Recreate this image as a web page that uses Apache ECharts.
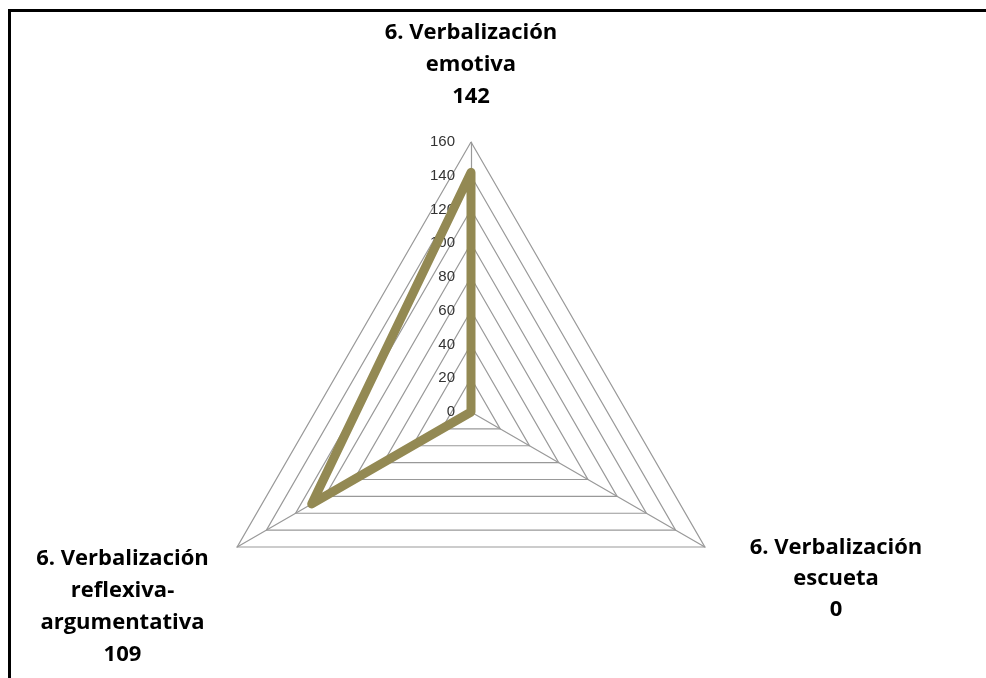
<!DOCTYPE html>
<html>
<head>
  <meta charset="utf-8">
  <title>Verbalización</title>
  <script src="https://cdn.jsdelivr.net/npm/echarts@6/dist/echarts.min.js"></script>
  <style type="text/css">
    html, body {
      margin: 0;
      padding: 0;
      background: #fff;
    }

    /* marco del gráfico */
    .frame {
      position: absolute;
      left: 8px;
      top: 9px;
      width: 986px;
      height: 678px;
      border-top: 3px solid #000;
      border-left: 3px solid #000;
    }

    #chart {
      position: absolute;
      left: 0;
      top: 0;
      width: 986px;
      height: 678px;
    }
  </style>
</head>
<body>
<div class="frame"></div>
<div id="chart"></div>
<script>
  // datos (orden en que echarts los dibuja: arriba, abajo-izq, abajo-der)
  var categories = ['6. Verbalización\nemotiva', '6. Verbalización\nreflexiva-\nargumentativa', '6. Verbalización\nescueta'];
  var values = [142, 109, 0];
  var axisMax = 160;
  var axisStep = 20;

  var chart = echarts.init(document.getElementById('chart'));

  // nombre + valor, cada línea centrada en una caja fija
  function nameFormatter(name) {
    var idx = categories.indexOf(name);
    var lines = name.split('\n');
    lines.push(String(values[idx]));
    return lines.map(function (l) {
      return '{n|' + l + '}';
    }).join('\n');
  }

  // ajuste de cada nombre
  var nameGaps = [29, 17, 36];
  var namePads = [[0, 0, 0, 0], [102, 0, 0, 0], [28, 0, 0, 0]];
  var lineHeights = [32, 32, 31];

  var indicators = categories.map(function (c, i) {
    var ind = {
      name: c,
      max: axisMax,
      min: 0,
      nameGap: nameGaps[i],
      nameTextStyle: {
        padding: namePads[i],
        rich: {n: {lineHeight: lineHeights[i]}}
      }
    };
    if (i === 0) {
      ind.axisLabel = {show: true};
    }
    return ind;
  });

  var option = {
    animation: false,
    radar: {
      center: [471, 412],
      radius: 270,
      startAngle: 90,
      shape: 'polygon',
      splitNumber: axisMax / axisStep,
      indicator: indicators,
      axisName: {
        formatter: nameFormatter,
        rich: {
          n: {
            width: 200,
            align: 'center',
            fontFamily: '"Open Sans", sans-serif',
            fontWeight: 'bold',
            fontSize: 22,
            lineHeight: 32,
            color: '#000'
          }
        }
      },
      axisLine: {
        show: true,
        lineStyle: {color: '#999', width: 1.2}
      },
      axisTick: {show: false},
      axisLabel: {
        show: false,
        margin: 16,
        fontFamily: '"Liberation Sans", Arial, sans-serif',
        fontSize: 15,
        color: '#333'
      },
      splitLine: {
        lineStyle: {color: '#999', width: 1.2}
      },
      splitArea: {show: false}
    },
    series: [{
      type: 'radar',
      symbol: 'none',
      lineStyle: {
        color: '#938953',
        width: 9,
        cap: 'round',
        join: 'round'
      },
      data: [{value: values, name: 'Verbalización'}]
    }]
  };

  chart.setOption(option);
</script>
</body>
</html>
